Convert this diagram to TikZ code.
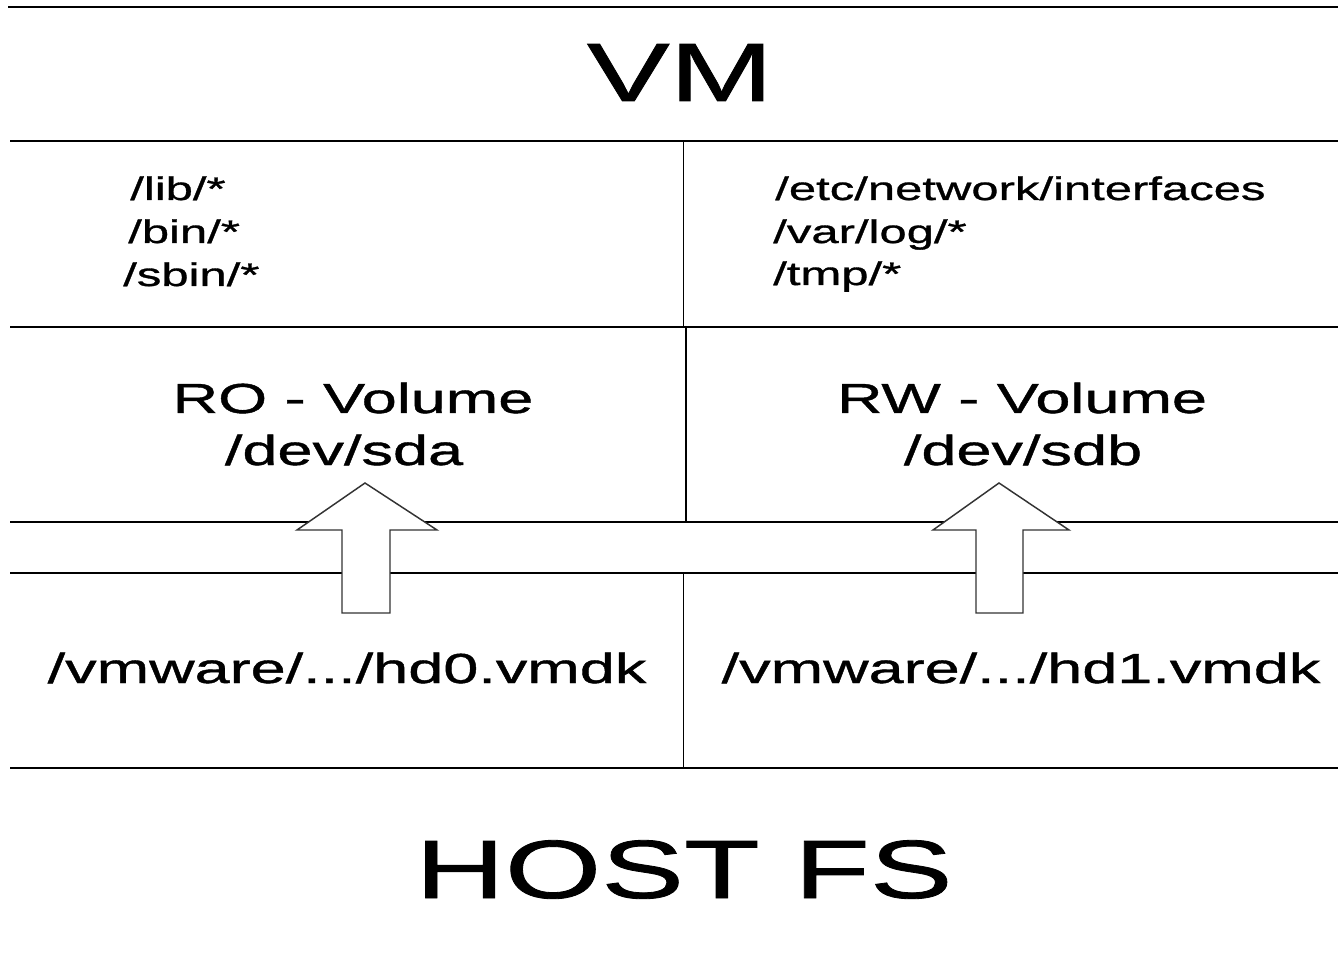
\documentclass[tikz,border=0pt]{standalone}
\usepackage{fontspec}
\usepackage{tikz}
\newfontfamily\widefont[FakeStretch=1.5,FakeBold=1]{Liberation Sans}
\tikzset{
  rule/.style={line width=1.1pt},
  uparrow/.style={line width=1.1pt, draw=black!80, fill=white, line join=miter},
  pathtext/.style={font=\widefont\fontsize{24.5}{29}\selectfont, anchor=base west, inner sep=0pt},
  voltext/.style={font=\widefont\fontsize{31.5}{38}\selectfont, anchor=base, inner sep=0pt},
  titletext/.style={font=\widefont\fontsize{62}{74}\selectfont, anchor=base, inner sep=0pt}
}
\begin{document}
\begin{tikzpicture}[x=0.75pt,y=0.75pt,yscale=-1,xscale=1]
\fill[white] (0,0) rectangle (1338,969);
\useasboundingbox (0,0) rectangle (1338,969);

%Straight Lines
\draw [rule] (8,7) -- (1338,7) ;
%Straight Lines
\draw [rule] (10,141) -- (1338,141) ;
%Straight Lines
\draw [rule] (10,327) -- (1338,327) ;
%Straight Lines
\draw [rule] (10,522) -- (1338,522) ;
%Straight Lines
\draw [rule] (10,573) -- (1338,573) ;
%Straight Lines
\draw [rule] (10,768) -- (1338,768) ;
%Straight Lines
\draw [rule] (683.5,141) -- (683.5,327) ;
%Straight Lines
\draw [rule] (686,327) -- (686,522) ;
%Straight Lines
\draw [rule] (683.5,573) -- (683.5,768) ;

%Shape: Up Arrow
\draw [uparrow] (342,613) -- (342,530) -- (297,530) -- (365,483) -- (437,530) -- (390,530) -- (390,613) -- cycle ;
%Shape: Up Arrow
\draw [uparrow] (976,613) -- (976,530) -- (933,530) -- (999,483) -- (1069,530) -- (1023,530) -- (1023,613) -- cycle ;

% Text Node
\draw (680,101) node (vm) [titletext] {VM};
% Text Node
\draw (130,200) node (lib) [pathtext] {/lib/*};
% Text Node
\draw (128,243) node (bin) [pathtext] {/bin/*};
% Text Node
\draw (123,286) node (sbin) [pathtext] {/sbin/*};
% Text Node
\draw (775,200) node (etc) [pathtext] {/etc/network/interfaces};
% Text Node
\draw (773,243) node (varlog) [pathtext] {/var/log/*};
% Text Node
\draw (773,285) node (tmp) [pathtext] {/tmp/*};
% Text Node
\draw (353,413) node (ro) [voltext] {RO - Volume};
% Text Node
\draw (344,465) node (sda) [voltext] {/dev/sda};
% Text Node
\draw (1022,413) node (rw) [voltext] {RW - Volume};
% Text Node
\draw (1023,465) node (sdb) [voltext] {/dev/sdb};
% Text Node
\draw (347,683) node (hdzero) [voltext] {/vmware/.../hd0.vmdk};
% Text Node
\draw (1021,683) node (hdone) [voltext] {/vmware/.../hd1.vmdk};
% Text Node
\draw (684,898) node (host) [titletext] {HOST FS};
\end{tikzpicture}
\end{document}
